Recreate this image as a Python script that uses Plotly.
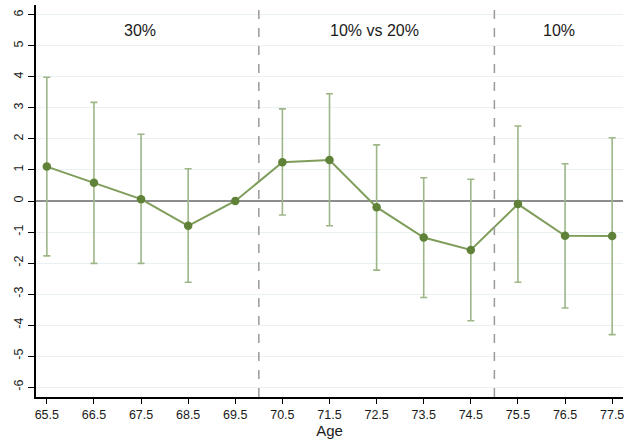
import plotly.graph_objects as go

ages = [65.5, 66.5, 67.5, 68.5, 69.5, 70.5, 71.5, 72.5, 73.5, 74.5, 75.5, 76.5, 77.5]
estimates = [1.11, 0.59, 0.06, -0.80, 0.0, 1.25, 1.32, -0.20, -1.18, -1.58, -0.10, -1.12, -1.13]
ci_upper = [3.99, 3.18, 2.15, 1.04, None, 2.97, 3.46, 1.81, 0.75, 0.70, 2.42, 1.20, 2.04]
ci_lower = [-1.77, -2.01, -2.01, -2.62, None, -0.45, -0.80, -2.23, -3.11, -3.86, -2.62, -3.45, -4.31]
x_ticks = ages
y_ticks = list(range(-6, 7))
period_labels = ["30%", "10% vs 20%", "10%"]
period_label_x = [67.48, 72.45, 76.37]
period_breaks = [70, 75]

err_plus = [None if u is None else u - e for u, e in zip(ci_upper, estimates)]
err_minus = [None if l is None else e - l for l, e in zip(ci_lower, estimates)]

font_family = "Liberation Sans, Arial, Helvetica, sans-serif"

fig = go.Figure()
fig.add_trace(go.Scatter(
    x=ages, y=estimates, mode="markers",
    marker=dict(size=1, color="rgba(0,0,0,0)"),
    error_y=dict(type="data", symmetric=False, array=err_plus, arrayminus=err_minus,
                 color="#9db687", thickness=1.6, width=3.5),
    showlegend=False, hoverinfo="skip"))
fig.add_trace(go.Scatter(
    x=ages, y=estimates, mode="lines+markers",
    line=dict(color="#7f9d5a", width=2),
    marker=dict(size=8.5, color="#5f8238"),
    showlegend=False))

for xb in period_breaks:
    fig.add_shape(type="line", x0=xb, x1=xb, y0=0, y1=1, xref="x", yref="paper",
                  line=dict(color="#9a9a9a", width=1.5, dash="dash"))

for lbl, lx in zip(period_labels, period_label_x):
    fig.add_annotation(x=lx, y=5.5, text=lbl, showarrow=False,
                       font=dict(size=16, color="#1a1a1a", family=font_family))

fig.update_layout(
    width=625, height=440,
    margin=dict(l=36, r=2, t=5, b=43),
    paper_bgcolor="white", plot_bgcolor="white",
    font=dict(family=font_family, color="#1a1a1a"),
    xaxis=dict(range=[65.27, 77.73], tickvals=x_ticks, ticktext=[f"{a:.1f}" for a in x_ticks],
               showgrid=False, zeroline=False, showline=True, linecolor="black", linewidth=1.5,
               ticks="outside", ticklen=5, tickcolor="black", tickwidth=1,
               tickfont=dict(size=12.5), title=dict(text="Age", font=dict(size=15), standoff=0)),
    yaxis=dict(range=[-6.32, 6.32], tickvals=y_ticks, ticktext=[str(v) for v in y_ticks],
               tickangle=-90, showgrid=True, gridcolor="#eaf1f2", gridwidth=1,
               zeroline=True, zerolinecolor="#8c8c8c", zerolinewidth=2,
               showline=True, linecolor="black", linewidth=1.5,
               ticks="outside", ticklen=6, tickcolor="black", tickwidth=1,
               tickfont=dict(size=12.5)),
)

fig.write_html("out.html", config={"displayModeBar": False},
               post_script="document.body.style.margin='0';document.body.style.overflow='hidden';")
